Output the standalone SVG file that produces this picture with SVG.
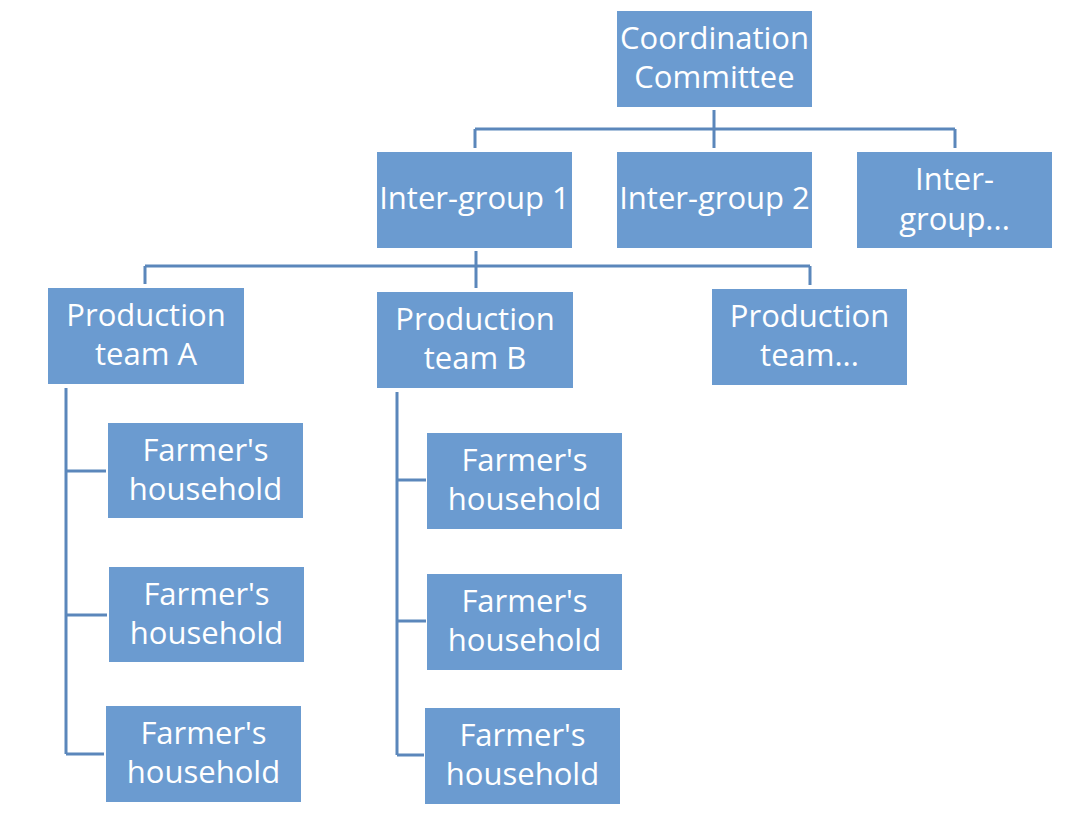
<svg xmlns="http://www.w3.org/2000/svg" width="1070" height="826" viewBox="0 0 1070 826">
<style>
.box{fill:#6b9bd0;}
.t{font-family:"Open Sans","Noto Sans","Liberation Sans",sans-serif;font-size:31px;fill:#ffffff;text-anchor:middle;}
.c{fill:none;stroke:#5b87bb;stroke-width:3;}
</style>
<rect width="1070" height="826" fill="#ffffff"/>
<g id="connectors">
<path class="c" d="M714,110 V148 M475,129 H955 M475,129 V148 M955,129 V148"/>
<path class="c" d="M476,251 V288 M145,266 H810 M145,266 V284 M810,266 V285"/>
<path class="c" d="M66,388 V754 M66,471 H106 M66,615 H107 M66,754 H104"/>
<path class="c" d="M397,392 V755 M397,480 H426 M397,621 H426 M397,755 H424"/>
</g>
<g id="coord"><rect class="box" x="617" y="11" width="195" height="96"/><text class="t" x="714.5" y="48.5">Coordination</text><text class="t" x="714.5" y="87.5">Committee</text></g>
<g id="ig1"><rect class="box" x="377" y="152" width="195" height="96"/><text class="t" x="474.5" y="208.5">Inter-group 1</text></g>
<g id="ig2"><rect class="box" x="617" y="152" width="195" height="96"/><text class="t" x="714.5" y="208.5">Inter-group 2</text></g>
<g id="ig3"><rect class="box" x="857" y="152" width="195" height="96"/><text class="t" x="954.5" y="189.5">Inter-</text><text class="t" x="954.5" y="229.5">group...</text></g>
<g id="pa"><rect class="box" x="48" y="288" width="196" height="96"/><text class="t" x="146" y="325.5">Production</text><text class="t" x="146" y="364.5">team A</text></g>
<g id="pb"><rect class="box" x="377" y="292" width="196" height="96"/><text class="t" x="475" y="329.5">Production</text><text class="t" x="475" y="368.5">team B</text></g>
<g id="pc"><rect class="box" x="712" y="289" width="195" height="96"/><text class="t" x="809.5" y="326.5">Production</text><text class="t" x="809.5" y="365.5">team...</text></g>
<g id="fa1"><rect class="box" x="108" y="423" width="195" height="95"/><text class="t" x="205.5" y="460.5">Farmer's</text><text class="t" x="205.5" y="499.5">household</text></g>
<g id="fa2"><rect class="box" x="109" y="567" width="195" height="95"/><text class="t" x="206.5" y="604.5">Farmer's</text><text class="t" x="206.5" y="643.5">household</text></g>
<g id="fa3"><rect class="box" x="106" y="706" width="195" height="96"/><text class="t" x="203.5" y="743.5">Farmer's</text><text class="t" x="203.5" y="782.5">household</text></g>
<g id="fb1"><rect class="box" x="427" y="433" width="195" height="96"/><text class="t" x="524.5" y="470.5">Farmer's</text><text class="t" x="524.5" y="509.5">household</text></g>
<g id="fb2"><rect class="box" x="427" y="574" width="195" height="96"/><text class="t" x="524.5" y="611.5">Farmer's</text><text class="t" x="524.5" y="650.5">household</text></g>
<g id="fb3"><rect class="box" x="425" y="708" width="195" height="96"/><text class="t" x="522.5" y="745.5">Farmer's</text><text class="t" x="522.5" y="784.5">household</text></g>
</svg>
